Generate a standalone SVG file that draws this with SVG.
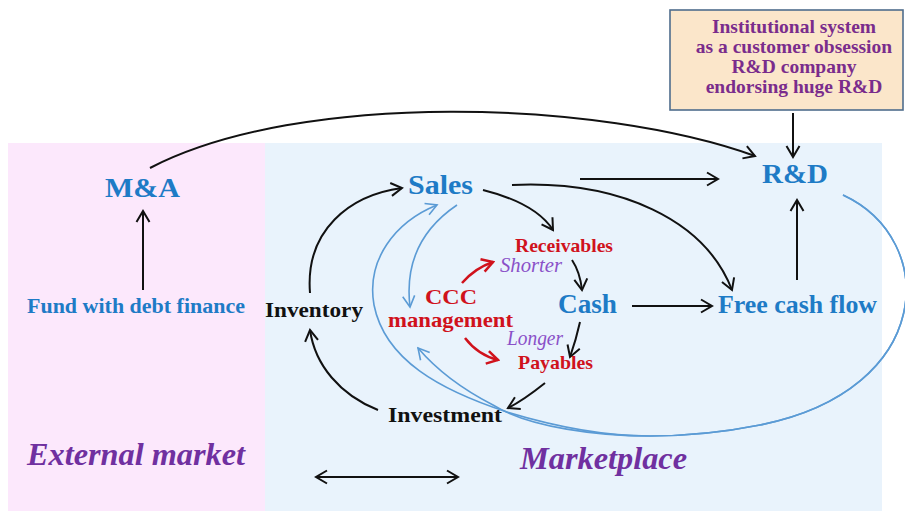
<svg xmlns="http://www.w3.org/2000/svg" width="905" height="511" viewBox="0 0 905 511">
<style>
text{font-family:"Liberation Serif","Times New Roman",serif;font-weight:bold}
.blue{fill:#1e7bc6}
.red{fill:#d0121c}
.blk{fill:#111}
.vio{fill:#8a50c8;font-weight:normal;font-style:italic}
.pur{fill:#7030a0;font-style:italic}
.box{fill:#7a2c8c}
.ck{fill:none;stroke:#111;stroke-width:2}
.cr{fill:none;stroke:#d0121c;stroke-width:2.5}
.cb{fill:none;stroke:#5b9bd5;stroke-width:1.6}
</style>
<defs>
<marker id="ak" markerUnits="userSpaceOnUse" markerWidth="16" markerHeight="16" viewBox="0 0 16 16" refX="14" refY="8" orient="auto-start-reverse"><path d="M3,1.5 L14,8 L3,14.5" fill="none" stroke="#111" stroke-width="2"/></marker>
<marker id="ar" markerUnits="userSpaceOnUse" markerWidth="16" markerHeight="16" viewBox="0 0 16 16" refX="14" refY="8" orient="auto"><path d="M3,1.5 L14,8 L3,14.5" fill="none" stroke="#d0121c" stroke-width="2.5"/></marker>
<marker id="ab" markerUnits="userSpaceOnUse" markerWidth="16" markerHeight="16" viewBox="0 0 16 16" refX="14" refY="8" orient="auto"><path d="M3,2 L14,8 L3,14" fill="none" stroke="#5b9bd5" stroke-width="1.6"/></marker>
</defs>
<rect width="905" height="511" fill="#fff"/>
<rect id="external-panel" x="8" y="143" width="257" height="368" fill="#fce8fc"/>
<rect id="marketplace-panel" x="265" y="143" width="617" height="368" fill="#e9f3fc"/>

<g id="connectors">
<path class="ck" d="M150,168 C300,90 600,100 755,156" marker-end="url(#ak)"/>
<path class="ck" d="M143,290 L143,211" marker-end="url(#ak)"/>
<path class="ck" d="M793,113 L793,157" marker-end="url(#ak)"/>
<path class="ck" d="M580,179 L718,179" marker-end="url(#ak)"/>
<path class="ck" d="M483,190 C515,198 540,210 553,230" marker-end="url(#ak)"/>
<path class="ck" d="M512,185 C620,180 705,220 732,290" marker-end="url(#ak)"/>
<path class="ck" d="M310,293 C305,230 350,195 402,188" marker-end="url(#ak)"/>
<path class="ck" d="M378,410 C340,395 315,365 310,330" marker-end="url(#ak)"/>
<path class="ck" d="M545,383 C530,395 520,402 508,408" marker-end="url(#ak)"/>
<path class="ck" d="M572,260 Q580,272 582,290" marker-end="url(#ak)"/>
<path class="ck" d="M580,322 Q576,340 570,357" marker-end="url(#ak)"/>
<path class="ck" d="M632,306 L712,306" marker-end="url(#ak)"/>
<path class="ck" d="M797,280 L797,200" marker-end="url(#ak)"/>
<path class="ck" d="M316,477 L458,477" marker-start="url(#ak)" marker-end="url(#ak)"/>
<path class="cr" d="M462,283 Q475,268 493,262" marker-end="url(#ar)"/>
<path class="cr" d="M465,338 Q478,355 498,360" marker-end="url(#ar)"/>
<path class="cb" d="M457,205 C420,230 405,265 410,307" marker-end="url(#ab)"/>
<path class="cb" d="M843,195 C940,240 935,390 760,425 C720,433 690,436 650,436 C600,436 550,425 507,412 C440,390 385,360 374,305 C366,260 395,222 437,205" marker-end="url(#ab)"/>
<path class="cb" d="M843,195 C940,240 935,390 760,425 C720,433 690,436 650,436 C600,436 530,428 493,405 C460,388 435,368 418,348" marker-end="url(#ab)"/>
</g>

<g id="box-institutional">
<rect x="670" y="10" width="233" height="100" fill="#fbe6ca" stroke="#4f6d8c" stroke-width="1.6"/>
<text class="box" font-size="19.5" text-anchor="middle" x="794" y="33">Institutional system</text>
<text class="box" font-size="19.5" text-anchor="middle" x="794" y="53">as a customer obsession</text>
<text class="box" font-size="19.5" text-anchor="middle" x="794" y="73">R&amp;D company</text>
<text class="box" font-size="19.5" text-anchor="middle" x="794" y="93">endorsing huge R&amp;D</text>
</g>
<g id="node-ma"><text class="blue" font-size="28" x="105" y="197" textLength="75" lengthAdjust="spacingAndGlyphs">M&amp;A</text></g>
<g id="node-fund"><text class="blue" font-size="21" x="27" y="313" textLength="218" lengthAdjust="spacingAndGlyphs">Fund with debt finance</text></g>
<g id="node-rd"><text class="blue" font-size="27" x="762" y="183" textLength="66" lengthAdjust="spacingAndGlyphs">R&amp;D</text></g>
<g id="node-sales"><text class="blue" font-size="27" x="408" y="194" textLength="65" lengthAdjust="spacingAndGlyphs">Sales</text></g>
<g id="node-receivables"><text class="red" font-size="19" x="515" y="252" textLength="98" lengthAdjust="spacingAndGlyphs">Receivables</text></g>
<g id="node-shorter"><text class="vio" font-size="20" x="500" y="272" textLength="62" lengthAdjust="spacingAndGlyphs">Shorter</text></g>
<g id="node-ccc"><text class="red" font-size="22" x="425" y="304" textLength="52" lengthAdjust="spacingAndGlyphs">CCC</text><text class="red" font-size="21" x="388" y="327" textLength="125" lengthAdjust="spacingAndGlyphs">management</text></g>
<g id="node-cash"><text class="blue" font-size="27" x="558" y="313" textLength="59" lengthAdjust="spacingAndGlyphs">Cash</text></g>
<g id="node-fcf"><text class="blue" font-size="25" x="718" y="313" textLength="159" lengthAdjust="spacingAndGlyphs">Free cash flow</text></g>
<g id="node-inventory"><text class="blk" font-size="22" x="265" y="317" textLength="98" lengthAdjust="spacingAndGlyphs">Inventory</text></g>
<g id="node-longer"><text class="vio" font-size="20" x="507" y="345" textLength="56" lengthAdjust="spacingAndGlyphs">Longer</text></g>
<g id="node-payables"><text class="red" font-size="19" x="518" y="369" textLength="75" lengthAdjust="spacingAndGlyphs">Payables</text></g>
<g id="node-investment"><text class="blk" font-size="22" x="388" y="422" textLength="114" lengthAdjust="spacingAndGlyphs">Investment</text></g>
<g id="label-external"><text class="pur" font-size="31" x="27" y="465" textLength="218" lengthAdjust="spacingAndGlyphs">External market</text></g>
<g id="label-marketplace"><text class="pur" font-size="31" x="520" y="469" textLength="167" lengthAdjust="spacingAndGlyphs">Marketplace</text></g>
</svg>
